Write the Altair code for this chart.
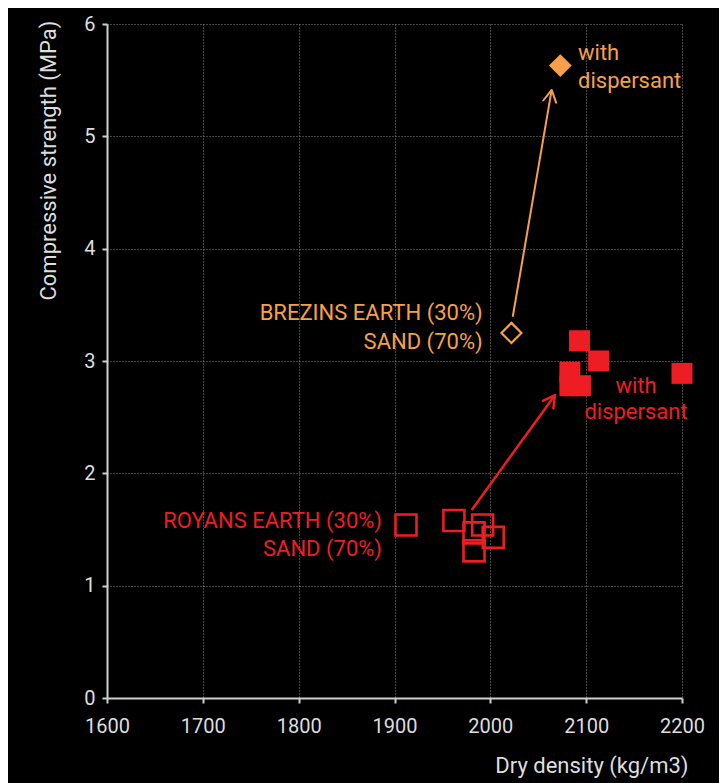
import math
import altair as alt
import pandas as pd

# ---- data ----
royans_x = [1912, 1962, 1983, 1992, 2003, 1983]
royans_y = [1.54, 1.58, 1.47, 1.54, 1.43, 1.31]

royans_disp_x = [2093, 2113, 2083, 2083, 2094, 2200]
royans_disp_y = [3.18, 3.00, 2.90, 2.78, 2.78, 2.89]

brezins_x = [2022]
brezins_y = [3.25]

brezins_disp_x = [2073]
brezins_disp_y = [5.63]

# arrows (start -> tip) in data units
arrow_x1 = [1980.6, 2023.4]
arrow_y1 = [1.674, 3.394]
arrow_x2 = [2067.5, 2064.0]
arrow_y2 = [2.697, 5.413]

RED = "#ee1d24"
ORANGE = "#f6a04b"
arrow_col = [RED, ORANGE]
arrow_w = [2.5, 2.0]

W, H = 575, 674
XMIN, XMAX, YMIN, YMAX = 1600, 2200, 0, 6
FONT = "Roboto"
TXT = "#dedede"
FS = 22

# label texts
lab_left_text = ["with", "dispersant"]
lab_left_x = [2091.5, 2091.5]
lab_left_y = [5.74, 5.49]

lab_center_text = ["with", "dispersant"]
lab_center_x = [2152, 2152]
lab_center_y = [2.78, 2.55]

lab_right_text = ["BREZINS EARTH (30%)", "SAND (70%)", "ROYANS EARTH (30%)", "SAND (70%)"]
lab_right_x = [1992, 1992, 1887, 1887]
lab_right_y = [3.43, 3.17, 1.58, 1.33]
lab_right_col = [ORANGE, ORANGE, RED, RED]

# ---- build tables ----
xs = alt.Scale(domain=[XMIN, XMAX], nice=False, zero=False)
ys = alt.Scale(domain=[YMIN, YMAX], nice=False)

df_r = pd.DataFrame({"x": royans_x, "y": royans_y})
df_rd = pd.DataFrame({"x": royans_disp_x, "y": royans_disp_y})
df_b = pd.DataFrame({"x": brezins_x, "y": brezins_y})
df_bd = pd.DataFrame({"x": brezins_disp_x, "y": brezins_disp_y})

kx = W / (XMAX - XMIN)
ky = H / (YMAX - YMIN)
angles = []
for a, b, c, d in zip(arrow_x1, arrow_y1, arrow_x2, arrow_y2):
    dx = (c - a) * kx
    dy = (d - b) * ky
    angles.append(math.degrees(math.atan2(dx, dy)))
df_ar = pd.DataFrame({"x": arrow_x1, "y": arrow_y1, "x2": arrow_x2, "y2": arrow_y2,
                      "col": arrow_col, "w": arrow_w, "ang": angles})

df_ll = pd.DataFrame({"x": lab_left_x, "y": lab_left_y, "t": lab_left_text})
df_lc = pd.DataFrame({"x": lab_center_x, "y": lab_center_y, "t": lab_center_text})
df_lr = pd.DataFrame({"x": lab_right_x, "y": lab_right_y, "t": lab_right_text, "col": lab_right_col})

xaxis = alt.Axis(values=list(range(1600, 2201, 100)), format="d", title="Dry density (kg/m3)",
                 titleAnchor="end", titleAlign="right", titleBaseline="middle",
                 titleX=W + 6, titleY=67, labelPadding=13, tickSize=5, labelFlush=False,
                 gridDash=[1, 2])
yaxis = alt.Axis(values=[0, 1, 2, 3, 4, 5, 6], format="d", title="Compressive strength (MPa)",
                 titleAngle=-90, titleAlign="right", titleBaseline="middle",
                 titleX=-59, titleY=-4, labelPadding=7, tickSize=5, labelFlush=False,
                 gridDash=[1, 2])

base_x = alt.X("x:Q", scale=xs, axis=xaxis)
base_y = alt.Y("y:Q", scale=ys, axis=yaxis)

open_sq = alt.Chart(df_r).mark_point(shape="square", size=441, filled=False,
                                     strokeWidth=2.6, color=RED, opacity=1).encode(x=base_x, y=base_y)
fill_sq = alt.Chart(df_rd).mark_point(shape="square", size=441, filled=True,
                                      color=RED, opacity=1).encode(x="x:Q", y="y:Q")
open_di = alt.Chart(df_b).mark_point(shape="diamond", size=400, filled=False,
                                     strokeWidth=2.2, color=ORANGE, opacity=1).encode(x="x:Q", y="y:Q")
fill_di = alt.Chart(df_bd).mark_point(shape="diamond", size=520, filled=True,
                                      color=ORANGE, opacity=1).encode(x="x:Q", y="y:Q")

lines = alt.Chart(df_ar).mark_rule().encode(
    x="x:Q", y="y:Q", x2="x2:Q", y2="y2:Q",
    color=alt.Color("col:N", scale=None),
    strokeWidth=alt.StrokeWidth("w:Q", scale=None))
heads = alt.Chart(df_ar).mark_point(shape="M-0.55,1L0,0L0.55,1", size=560, filled=False,
                                    opacity=1, strokeCap="round", strokeJoin="round").encode(
    x="x2:Q", y="y2:Q",
    color=alt.Color("col:N", scale=None),
    strokeWidth=alt.StrokeWidth("w:Q", scale=None),
    angle=alt.Angle("ang:Q", scale=None))

t_left = alt.Chart(df_ll).mark_text(align="left", baseline="middle", font=FONT,
                                    fontSize=FS, color=ORANGE).encode(x="x:Q", y="y:Q", text="t:N")
t_center = alt.Chart(df_lc).mark_text(align="center", baseline="middle", font=FONT,
                                      fontSize=FS, color=RED).encode(x="x:Q", y="y:Q", text="t:N")
t_right = alt.Chart(df_lr).mark_text(align="right", baseline="middle", font=FONT,
                                     fontSize=FS).encode(x="x:Q", y="y:Q", text="t:N",
                                                         color=alt.Color("col:N", scale=None))

chart = alt.layer(open_sq, fill_sq, open_di, fill_di, lines, heads, t_left, t_center, t_right).properties(
    width=W, height=H,
    autosize=alt.AutoSizeParams(type="none"),
    padding={"left": 99, "top": 16, "right": 37, "bottom": 85},
    background="#000000",
).configure_view(stroke=None).configure_axis(
    domainColor="#cfcfcf", domainWidth=2, tickColor="#cfcfcf", tickWidth=2,
    gridColor="#8a8a8a", gridWidth=1,
    labelColor=TXT, labelFont=FONT, labelFontSize=20,
    titleColor=TXT, titleFont=FONT, titleFontSize=22, titleFontWeight="normal",
)

chart.save("out.html", embed_options={"renderer": "svg", "actions": False})
